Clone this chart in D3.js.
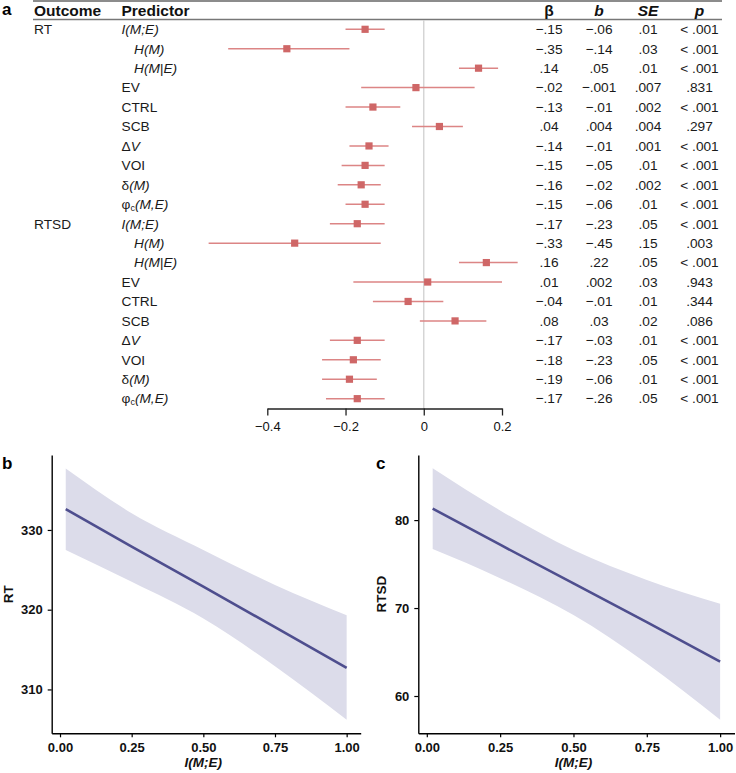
<!DOCTYPE html>
<html><head><meta charset="utf-8">
<script src="https://cdn.jsdelivr.net/npm/d3@7"></script>
<style>
html,body{margin:0;padding:0;background:#fff;}
svg{display:block;font-family:"Liberation Sans",Arial,Helvetica,sans-serif;}
</style></head>
<body>
<svg id="chart" width="736" height="773"></svg>
<script>
// ---------- Data: panel a (forest plot) ----------
const outcomes = ["RT", "RTSD"];
const predictors = ["I(M;E)", "H(M)", "H(M|E)", "EV", "CTRL", "SCB", "ΔV", "VOI", "δ(M)", "φc(M,E)"];
const estRT   = [-0.15, -0.35, 0.14, -0.02, -0.13, 0.04, -0.14, -0.15, -0.16, -0.15];
const loRT    = [-0.20, -0.50, 0.09, -0.16, -0.20, -0.03, -0.19, -0.21, -0.22, -0.20];
const hiRT    = [-0.10, -0.19, 0.19, 0.13, -0.06, 0.10, -0.09, -0.10, -0.11, -0.10];
const estRTSD = [-0.17, -0.33, 0.16, 0.01, -0.04, 0.08, -0.17, -0.18, -0.19, -0.17];
const loRTSD  = [-0.24, -0.55, 0.09, -0.18, -0.13, -0.01, -0.24, -0.26, -0.26, -0.25];
const hiRTSD  = [-0.10, -0.11, 0.24, 0.20, 0.05, 0.16, -0.10, -0.11, -0.12, -0.10];
const betaRT  = ["−.15","−.35",".14","−.02","−.13",".04","−.14","−.15","−.16","−.15"];
const bRT     = ["−.06","−.14",".05","−.001","−.01",".004","−.01","−.05","−.02","−.06"];
const seRT    = [".01",".03",".01",".007",".002",".004",".001",".01",".002",".01"];
const pRT     = ["< .001","< .001","< .001",".831","< .001",".297","< .001","< .001","< .001","< .001"];
const betaRTSD= ["−.17","−.33",".16",".01","−.04",".08","−.17","−.18","−.19","−.17"];
const bRTSD   = ["−.23","−.45",".22",".002","−.01",".03","−.03","−.23","−.06","−.26"];
const seRTSD  = [".05",".15",".05",".03",".01",".02",".01",".05",".01",".05"];
const pRTSD   = ["< .001",".003","< .001",".943",".344",".086","< .001","< .001","< .001","< .001"];
const forestTicks = [-0.4, -0.2, 0, 0.2];
const tableHeaders = ["β", "b", "SE", "p"];

// ---------- Data: panels b, c (fitted lines with CI bands) ----------
const fitX      = [0.02, 0.25, 0.50, 0.75, 1.00];
const rtFit     = [332.6, 327.9, 322.9, 317.8, 312.7];
const rtLower   = [327.5, 323.5, 318.9, 312.9, 306.2];
const rtUpper   = [337.7, 332.1, 327.5, 323.1, 319.3];
const rtsdFit   = [81.3, 77.2, 72.8, 68.4, 63.9];
const rtsdLower = [76.7, 73.4, 69.2, 63.7, 57.3];
const rtsdUpper = [85.9, 81.1, 76.6, 73.2, 70.5];
const xTicks    = [0, 0.25, 0.5, 0.75, 1];
const rtTicks   = [310, 320, 330];
const rtsdTicks = [60, 70, 80];

// ---------- Build ----------
const svg = d3.select("#chart");

// Panel a
const rowY0 = 29.3, rowStep = 19.44;
const rows = [];
outcomes.forEach((o, gi) => {
  const est = gi === 0 ? estRT : estRTSD, lo = gi === 0 ? loRT : loRTSD, hi = gi === 0 ? hiRT : hiRTSD;
  const be = gi === 0 ? betaRT : betaRTSD, bb = gi === 0 ? bRT : bRTSD, se = gi === 0 ? seRT : seRTSD, pp = gi === 0 ? pRT : pRTSD;
  predictors.forEach((p, i) => rows.push({outcome: i === 0 ? o : "", pred: p, est: est[i], lo: lo[i], hi: hi[i], cols: [be[i], bb[i], se[i], pp[i]]}));
});
const y = i => rowY0 + i * rowStep;
const xF = d3.scaleLinear().domain([-0.4, 0.2]).range([267.3, 502]);

svg.append("text").attr("x", 2).attr("y", 15).attr("font-weight", "bold").attr("font-size", 17).text("a");
// header lines
svg.append("line").attr("x1", 33).attr("x2", 722).attr("y1", 1).attr("y2", 1).attr("stroke", "#666").attr("stroke-width", 1.6);
svg.append("line").attr("x1", 33).attr("x2", 722).attr("y1", 19.5).attr("y2", 19.5).attr("stroke", "#777").attr("stroke-width", 1.4);
svg.append("text").attr("x", 34).attr("y", 15.5).attr("font-weight", "bold").attr("font-size", 15.5).attr("fill", "#111").text("Outcome");
svg.append("text").attr("x", 121.5).attr("y", 15.5).attr("font-weight", "bold").attr("font-size", 15.5).attr("fill", "#111").text("Predictor");
const colX = [549, 599, 648, 699.5];
tableHeaders.forEach((h, i) => {
  svg.append("text").attr("x", colX[i]).attr("y", 15.5).attr("text-anchor", "middle").attr("fill", "#111")
    .attr("font-weight", "bold").attr("font-style", i === 0 ? "normal" : "italic").attr("font-size", 15.5).text(h);
});

// zero line
svg.append("line").attr("x1", xF(0)).attr("x2", xF(0)).attr("y1", 20).attr("y2", 408.5)
  .attr("stroke", "#d0d0d0").attr("stroke-width", 1.3);

function predLabel(sel, label) {
  const segs = [];
  if (label.startsWith("Δ")) { segs.push(["Δ", "n"], [label.slice(1), "i"]); }
  else if (label.startsWith("δ")) { segs.push(["δ", "n"], [label.slice(1), "i"]); }
  else if (label.startsWith("φc")) { segs.push(["φ", "n"], ["c", "sub"], [label.slice(2), "i"]); }
  else if (/^[IH]\(/.test(label)) { segs.push([label, "i"]); }
  else { segs.push([label, "n"]); }
  segs.forEach(s => {
    const t = sel.append("tspan").text(s[0]);
    if (s[1] === "i") t.attr("font-style", "italic");
    if (s[1] === "sub") t.attr("font-size", 9).attr("dy", 2);
    else if (s[1] === "i" && segs.some(q => q[1] === "sub")) t.attr("dy", -2);
  });
}

const gRows = svg.append("g").attr("fill", "#1a1a1a");
rows.forEach((r, i) => {
  const yy = y(i);
  gRows.append("text").attr("x", 34).attr("y", yy + 4.8).attr("font-size", 13.7).text(r.outcome);
  const lab = gRows.append("text").attr("x", r.pred.startsWith("H(") ? 134 : 121.5).attr("y", yy + 4.8).attr("font-size", 13.7);
  predLabel(lab, r.pred);
  gRows.append("line").attr("x1", xF(r.lo)).attr("x2", xF(r.hi)).attr("y1", yy).attr("y2", yy)
    .attr("stroke", "#dc8585").attr("stroke-width", 1.5);
  gRows.append("rect").attr("x", xF(r.est) - 3.6).attr("y", yy - 3.6).attr("width", 7.2).attr("height", 7.2)
    .attr("fill", "#cf6767");
  r.cols.forEach((c, ci) => {
    gRows.append("text").attr("x", colX[ci]).attr("y", yy + 4.8).attr("text-anchor", "middle").attr("font-size", 13.7).text(c);
  });
});

const axF = svg.append("g").attr("transform", "translate(0,408.5)")
  .call(d3.axisBottom(xF).tickValues(forestTicks).tickSize(7).tickSizeOuter(0)
    .tickFormat(d => d === 0 ? "0" : d3.format(".1f")(d)));
axF.select(".domain").attr("stroke", "#222").attr("stroke-width", 1.3);
axF.selectAll(".tick line").attr("stroke", "#222").attr("stroke-width", 1.3);
axF.selectAll(".tick text").attr("font-size", 13).attr("font-family", "Liberation Sans, Arial, sans-serif").attr("fill", "#111").attr("dy", "0.95em");

// Panels b, c
function fitPanel(opts) {
  const {x0, x1, yTop, yBot, yDom, yTicks, fit, lower, upper, ylab, letter, letterX, ylabX} = opts;
  const xs = d3.scaleLinear().domain([-0.029, 1.049]).range([x0, x1]);
  const ys = d3.scaleLinear().domain(yDom).range([yBot, yTop]);
  const g = svg.append("g");
  const pts = fitX.map((v, i) => ({x: v, f: fit[i], lo: lower[i], hi: upper[i]}));
  g.append("path").datum(pts)
    .attr("d", d3.area().x(d => xs(d.x)).y0(d => ys(d.lo)).y1(d => ys(d.hi)).curve(d3.curveMonotoneX))
    .attr("fill", "#dcdcea");
  g.append("path").datum(pts)
    .attr("d", d3.line().x(d => xs(d.x)).y(d => ys(d.f)))
    .attr("fill", "none").attr("stroke", "#4e4e8e").attr("stroke-width", 2.6);
  const ax = g.append("g").attr("transform", `translate(0,${yBot})`)
    .call(d3.axisBottom(xs).tickValues(xTicks).tickSize(4).tickSizeOuter(0).tickFormat(d3.format(".2f")));
  const ay = g.append("g").attr("transform", `translate(${x0},0)`)
    .call(d3.axisLeft(ys).tickValues(yTicks).tickSize(4).tickSizeOuter(0).tickFormat(d3.format("d")));
  [ax, ay].forEach(a => {
    a.select(".domain").attr("stroke", "#000").attr("stroke-width", 1.4);
    a.selectAll(".tick line").attr("stroke", "#000").attr("stroke-width", 1.2);
    a.selectAll(".tick text").attr("font-size", 13).attr("font-weight", "bold").attr("fill", "#111")
      .attr("font-family", "Liberation Sans, Arial, sans-serif");
  });
  ax.selectAll(".tick text").attr("dy", "0.9em");
  ay.selectAll(".tick text").attr("dx", "-0.15em");
  g.append("text").attr("x", (xs(0) + xs(1)) / 2).attr("y", 767).attr("text-anchor", "middle").attr("fill", "#111")
    .attr("font-size", 13.5).attr("font-weight", "bold").attr("font-style", "italic").text("I(M;E)");
  g.append("text").attr("transform", `translate(${ylabX},${(yTop + yBot) / 2}) rotate(-90)`).attr("fill", "#111")
    .attr("text-anchor", "middle").attr("font-size", 13.5).attr("font-weight", "bold").text(ylab);
  g.append("text").attr("x", letterX).attr("y", 469).attr("font-size", 17).attr("font-weight", "bold").text(letter);
}

fitPanel({x0: 51.7, x1: 360.7, yTop: 455, yBot: 733.3, yDom: [304.5, 339.4], yTicks: rtTicks,
  fit: rtFit, lower: rtLower, upper: rtUpper, ylab: "RT", letter: "b", letterX: 2, ylabX: 13});
fitPanel({x0: 418.3, x1: 734.5, yTop: 455, yBot: 733.3, yDom: [55.76, 87.4], yTicks: rtsdTicks,
  fit: rtsdFit, lower: rtsdLower, upper: rtsdUpper, ylab: "RTSD", letter: "c", letterX: 376, ylabX: 386});
</script>
</body></html>
